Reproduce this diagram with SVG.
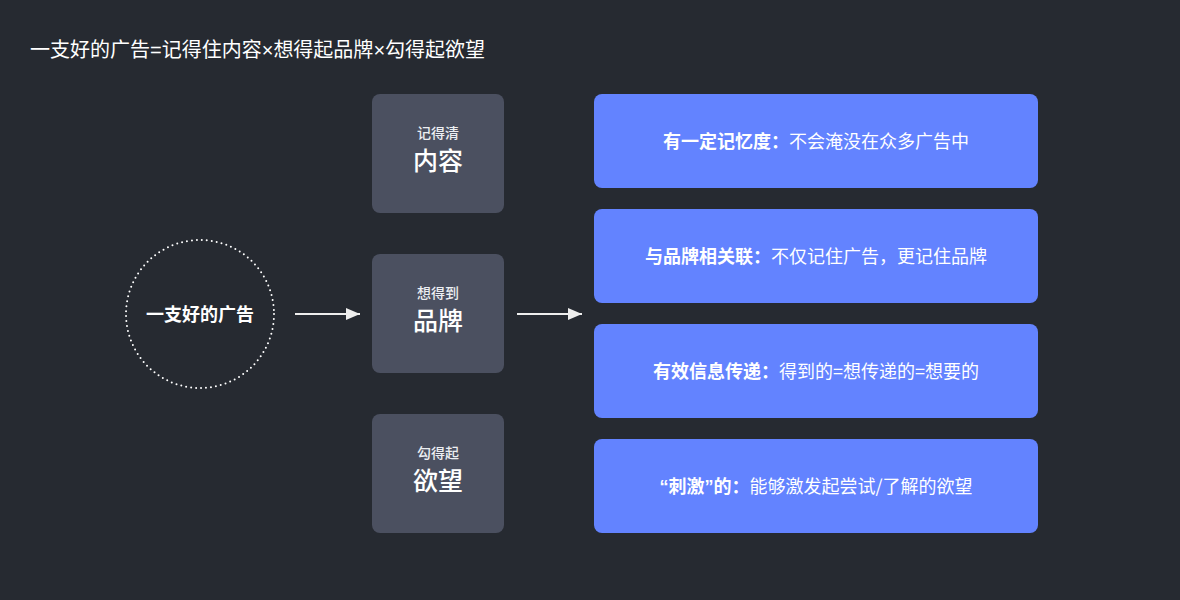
<svg xmlns="http://www.w3.org/2000/svg" width="1180" height="600" viewBox="0 0 1180 600">
<style>
text{font-family:"Noto Sans CJK SC","Noto Sans",sans-serif;fill:#ffffff}
.title{font-size:20px}
.lat{font-family:"Liberation Sans",sans-serif}
.gbox{fill:#4b5060}
.bbox{fill:#6383ff}
.small{font-size:14px;font-weight:500;text-anchor:middle;fill:#eceef2}
.big{font-size:25px;font-weight:500;text-anchor:middle}
.btxt{font-size:18px;text-anchor:middle}
.b{font-weight:700}
.conn{stroke:#eeeeee;stroke-width:2;fill:none}
</style>
<defs>
<marker id="ah" markerWidth="14" markerHeight="12" refX="14" refY="6" orient="auto" markerUnits="userSpaceOnUse">
<path d="M0,0 L14,6 L0,12 Z" fill="#eeeeee"/>
</marker>
</defs>
<rect width="1180" height="600" fill="#262a31"/>
<text class="title" x="30" y="57">一支好的广告<tspan class="lat">=</tspan>记得住内容<tspan class="lat">×</tspan>想得起品牌<tspan class="lat">×</tspan>勾得起欲望</text>
<g id="ad">
<circle cx="200" cy="314" r="74" fill="none" stroke="#ffffff" stroke-width="2" stroke-dasharray="0 5" stroke-linecap="round"/>
<text x="200" y="321" font-size="18" font-weight="700" text-anchor="middle">一支好的广告</text>
</g>
<g id="connectors">
<line class="conn" x1="295" y1="314" x2="360" y2="314" marker-end="url(#ah)"/>
<line class="conn" x1="517" y1="314" x2="582" y2="314" marker-end="url(#ah)"/>
</g>
<g id="content">
<rect class="gbox" x="372" y="94" width="132" height="119" rx="8"/>
<text class="small" x="438" y="138">记得清</text>
<text class="big" x="438" y="170">内容</text>
</g>
<g id="brand">
<rect class="gbox" x="372" y="254" width="132" height="119" rx="8"/>
<text class="small" x="438" y="298">想得到</text>
<text class="big" x="438" y="330">品牌</text>
</g>
<g id="desire">
<rect class="gbox" x="372" y="414" width="132" height="119" rx="8"/>
<text class="small" x="438" y="458">勾得起</text>
<text class="big" x="438" y="490">欲望</text>
</g>
<g id="memory">
<rect class="bbox" x="594" y="94" width="444" height="94" rx="8"/>
<text class="btxt" x="816" y="148"><tspan class="b">有一定记忆度：</tspan>不会淹没在众多广告中</text>
</g>
<g id="relate">
<rect class="bbox" x="594" y="209" width="444" height="94" rx="8"/>
<text class="btxt" x="816" y="263"><tspan class="b">与品牌相关联：</tspan>不仅记住广告，更记住品牌</text>
</g>
<g id="convey">
<rect class="bbox" x="594" y="324" width="444" height="94" rx="8"/>
<text class="btxt" x="816" y="378"><tspan class="b">有效信息传递：</tspan>得到的=想传递的=想要的</text>
</g>
<g id="stimulate">
<rect class="bbox" x="594" y="439" width="444" height="94" rx="8"/>
<text class="btxt" x="816" y="493"><tspan class="b"><tspan class="lat">“</tspan>刺激<tspan class="lat">”</tspan>的：</tspan>能够激发起尝试/了解的欲望</text>
</g>
</svg>
